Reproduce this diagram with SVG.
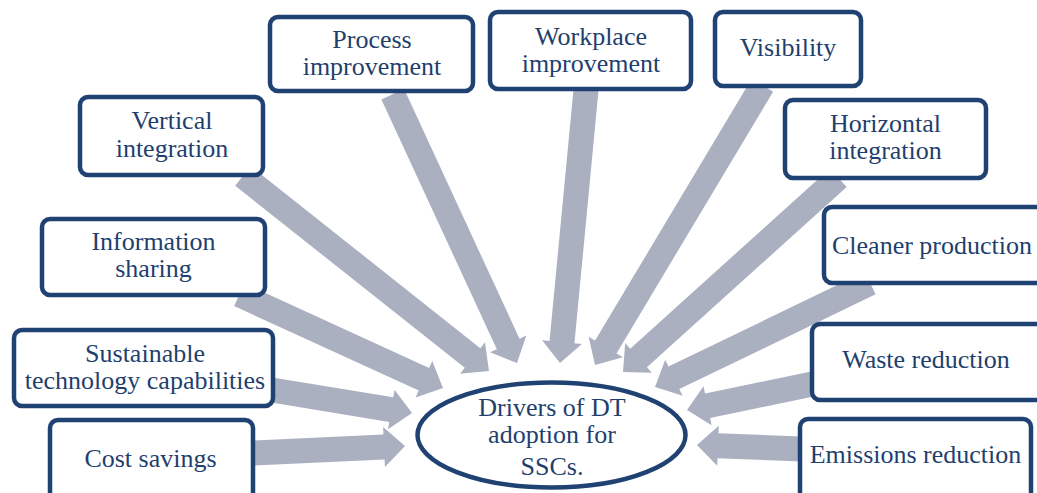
<svg xmlns="http://www.w3.org/2000/svg" width="1037" height="493" viewBox="0 0 1037 493">
  <style>
    .box { fill: #ffffff; stroke: #1F4273; stroke-width: 4.5; }
    .lbl { font-family: "Liberation Serif", "Times New Roman", serif; font-size: 26px; fill: #1F3F6E; text-anchor: middle; }
    .arr { fill: #AAB0C0; }
  </style>
  <rect width="1037" height="493" fill="#ffffff"/>

  <!-- block arrows: tip at local origin, pointing along +x -->
  <g id="connectors">
    <path class="arr" d="M0,0 L-21,-20 L-21,-12.5 L-296,-12.5 L-296,12.5 L-21,12.5 L-21,20 Z" transform="translate(517,363) rotate(65.18)"/>
    <path class="arr" d="M0,0 L-21,-20 L-21,-12.5 L-314,-12.5 L-314,12.5 L-21,12.5 L-21,20 Z" transform="translate(489,371) rotate(38.4)"/>
    <path class="arr" d="M0,0 L-21,-20 L-21,-12.5 L-224,-12.5 L-224,12.5 L-21,12.5 L-21,20 Z" transform="translate(443,388) rotate(24.61)"/>
    <path class="arr" d="M0,0 L-21,-20 L-21,-12.5 L-142,-12.5 L-142,12.5 L-21,12.5 L-21,20 Z" transform="translate(412,413) rotate(9.33)"/>
    <path class="arr" d="M0,0 L-21,-20 L-21,-12.5 L-152,-12.5 L-152,12.5 L-21,12.5 L-21,20 Z" transform="translate(405,446) rotate(-2.65)"/>
    <path class="arr" d="M0,0 L-21,-20 L-21,-12.5 L-275,-12.5 L-275,12.5 L-21,12.5 L-21,20 Z" transform="translate(560,363) rotate(95.44)"/>
    <path class="arr" d="M0,0 L-21,-20 L-21,-12.5 L-326,-12.5 L-326,12.5 L-21,12.5 L-21,20 Z" transform="translate(595,365) rotate(120.9)"/>
    <path class="arr" d="M0,0 L-21,-20 L-21,-12.5 L-290,-12.5 L-290,12.5 L-21,12.5 L-21,20 Z" transform="translate(623,372) rotate(137.94)"/>
    <path class="arr" d="M0,0 L-21,-20 L-21,-12.5 L-239,-12.5 L-239,12.5 L-21,12.5 L-21,20 Z" transform="translate(655,387) rotate(154.19)"/>
    <path class="arr" d="M0,0 L-21,-20 L-21,-12.5 L-128,-12.5 L-128,12.5 L-21,12.5 L-21,20 Z" transform="translate(687,410) rotate(168.25)"/>
    <path class="arr" d="M0,0 L-21,-20 L-21,-12.5 L-104,-12.5 L-104,12.5 L-21,12.5 L-21,20 Z" transform="translate(697,445) rotate(182.22)"/>
  </g>

  <g id="process-improvement">
    <rect class="box" x="270" y="17" width="203" height="74" rx="8"/>
    <text class="lbl" x="372" y="48">Process</text>
    <text class="lbl" x="372" y="75">improvement</text>
  </g>
  <g id="workplace-improvement">
    <rect class="box" x="490" y="12" width="201" height="77" rx="8"/>
    <text class="lbl" x="591" y="44.5">Workplace</text>
    <text class="lbl" x="591" y="71.5">improvement</text>
  </g>
  <g id="visibility">
    <rect class="box" x="715" y="12" width="146" height="74" rx="8"/>
    <text class="lbl" x="788" y="56">Visibility</text>
  </g>
  <g id="horizontal-integration">
    <rect class="box" x="785" y="100" width="201" height="78" rx="8"/>
    <text class="lbl" x="885.5" y="132">Horizontal</text>
    <text class="lbl" x="885.5" y="159">integration</text>
  </g>
  <g id="vertical-integration">
    <rect class="box" x="80" y="97" width="183" height="78" rx="8"/>
    <text class="lbl" x="172" y="129">Vertical</text>
    <text class="lbl" x="172" y="157">integration</text>
  </g>
  <g id="information-sharing">
    <rect class="box" x="42" y="219" width="223" height="76" rx="8"/>
    <text class="lbl" x="153.5" y="250">Information</text>
    <text class="lbl" x="153.5" y="277">sharing</text>
  </g>
  <g id="sustainable-technology">
    <rect class="box" x="14" y="330" width="259" height="76" rx="8"/>
    <text class="lbl" x="145" y="362">Sustainable</text>
    <text class="lbl" x="145" y="389">technology capabilities</text>
  </g>
  <g id="cost-savings">
    <rect class="box" x="50" y="420" width="203" height="90" rx="8"/>
    <text class="lbl" x="150.5" y="467">Cost savings</text>
  </g>
  <g id="cleaner-production">
    <rect class="box" x="824" y="207" width="240" height="76" rx="8"/>
    <text class="lbl" x="832" y="254" style="text-anchor:start">Cleaner production</text>
  </g>
  <g id="waste-reduction">
    <rect class="box" x="812" y="324" width="240" height="76" rx="8"/>
    <text class="lbl" x="926" y="368">Waste reduction</text>
  </g>
  <g id="emissions-reduction">
    <rect class="box" x="800" y="419" width="231" height="90" rx="8"/>
    <text class="lbl" x="915.5" y="463">Emissions reduction</text>
  </g>

  <g id="dt-drivers">
    <ellipse class="box" cx="551.5" cy="435" rx="134" ry="52.5"/>
    <text class="lbl" x="552" y="416">Drivers of DT</text>
    <text class="lbl" x="552" y="443">adoption for</text>
    <text class="lbl" x="552" y="475">SSCs.</text>
  </g>
</svg>
